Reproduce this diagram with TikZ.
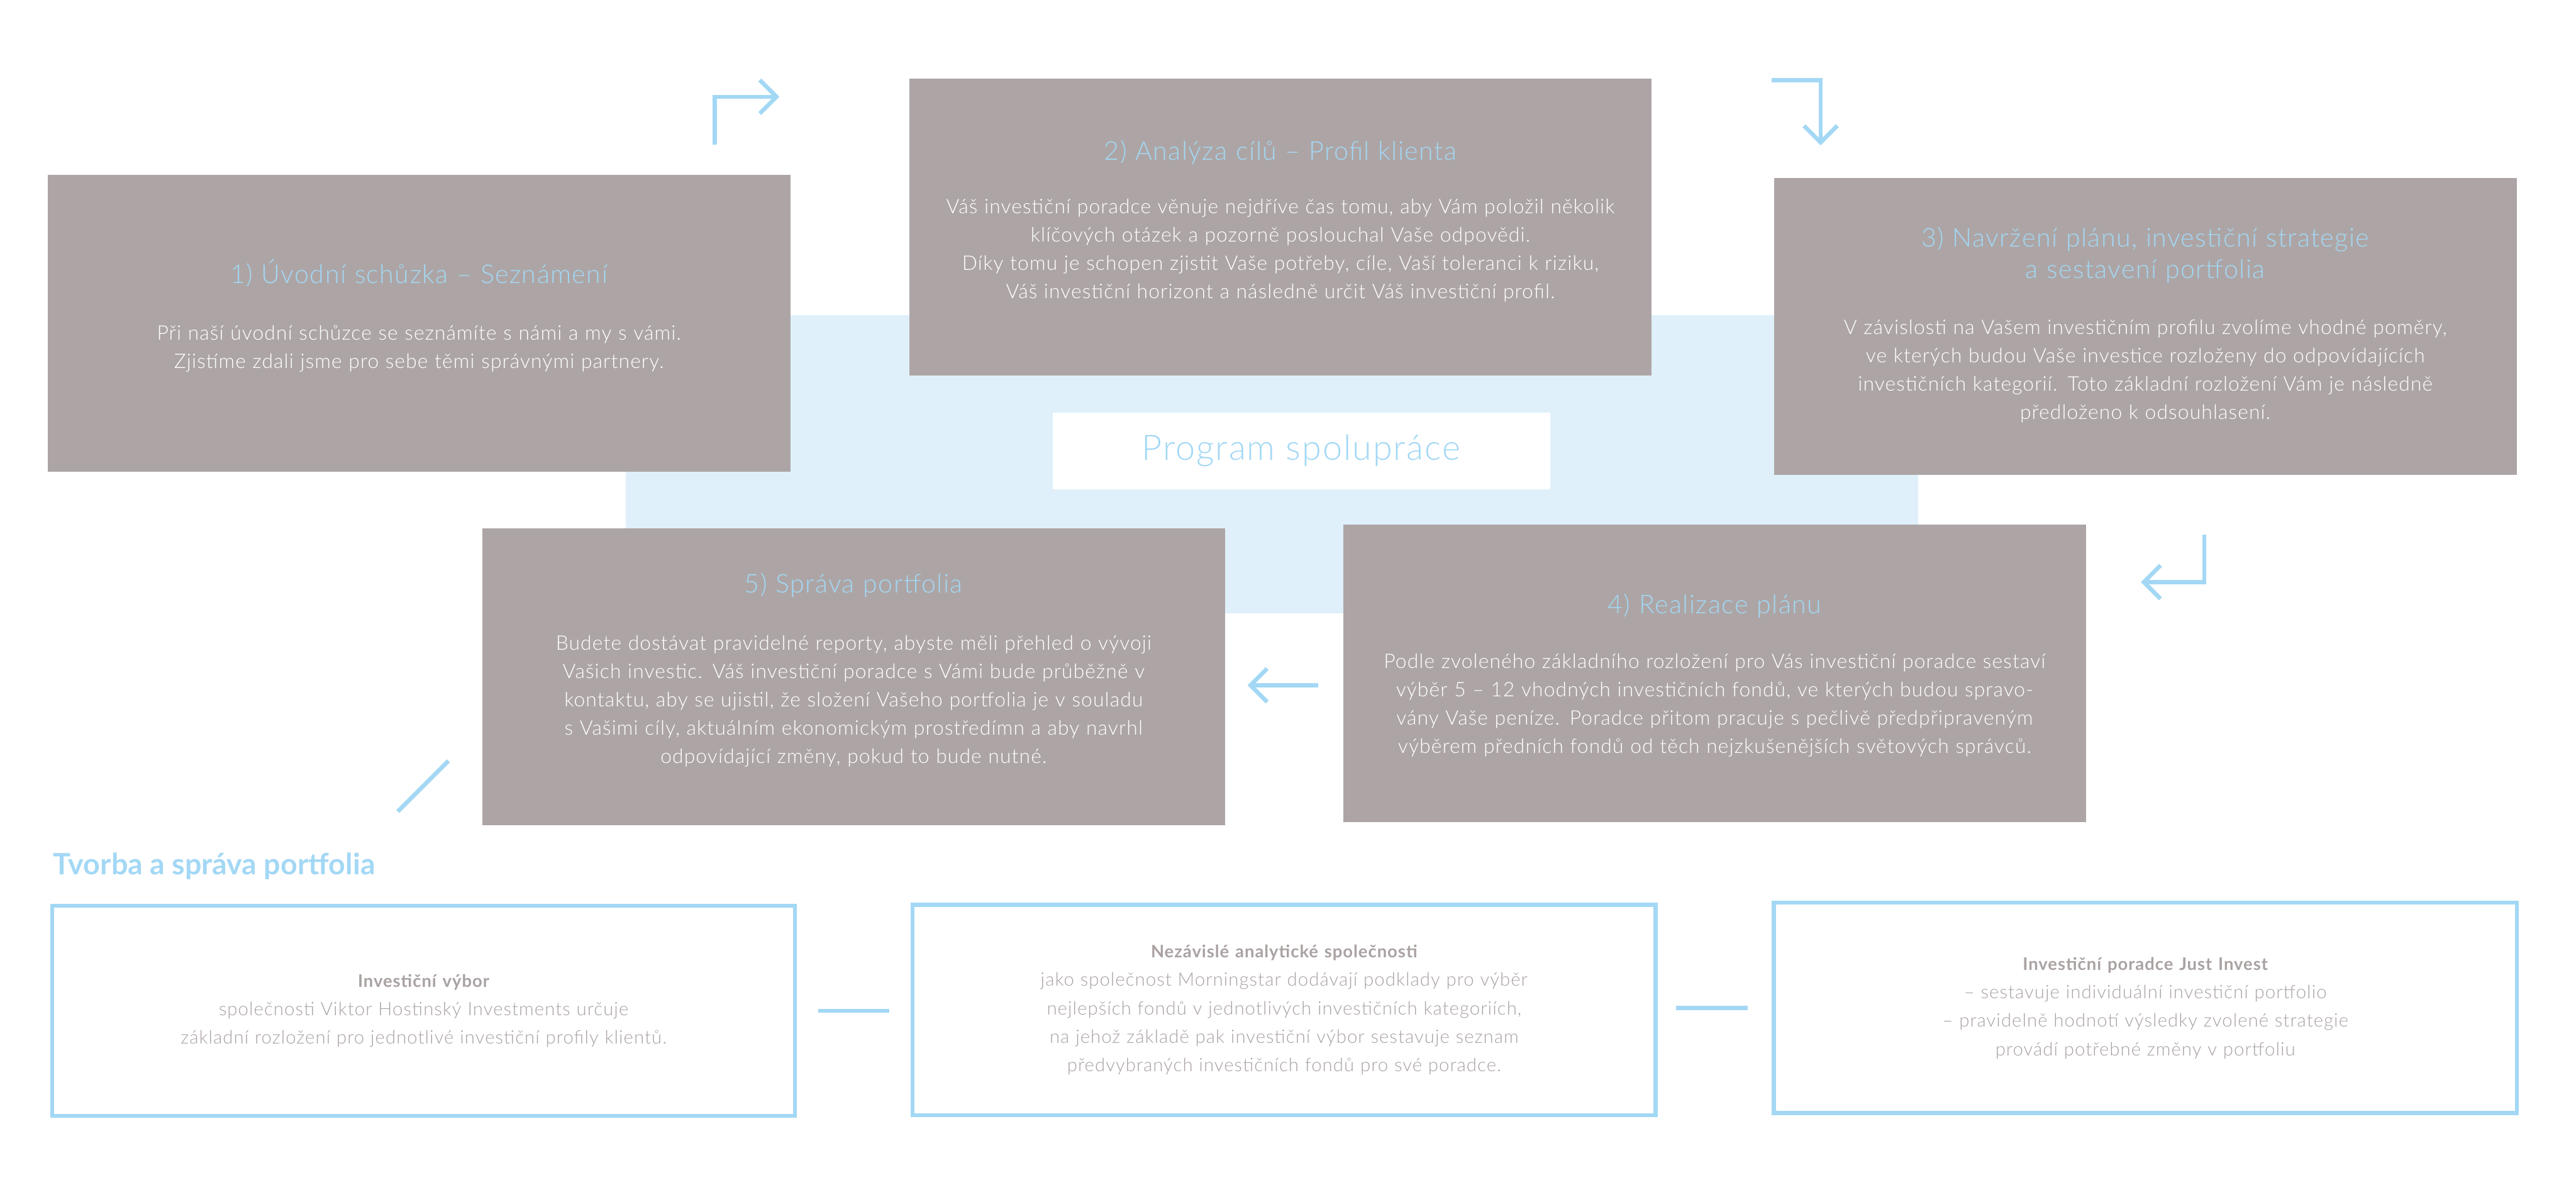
\documentclass[tikz,border=0pt]{standalone}
\usepackage{fontspec}
\setmainfont{Lato}[UprightFont=* Light, BoldFont=* Bold]
\usetikzlibrary{arrows.meta,positioning}

\definecolor{boxgray}{RGB}{173,165,165}
\definecolor{skyblue}{RGB}{163,216,245}
\definecolor{paleblue}{RGB}{223,240,250}
\definecolor{textgray}{RGB}{170,162,162}

\newcommand{\rolehead}[1]{{\fontsize{10}{16.5}\selectfont\bfseries #1}}

\begin{document}
\begin{tikzpicture}[
  stepbox/.style={rectangle, fill=boxgray, minimum width=15.12cm,
                  minimum height=6.05cm, inner sep=0pt},
  steptitle/.style={anchor=base, text=skyblue, align=center, text width=14.8cm,
                    inner sep=0pt,
                    font=\fontsize{15}{18.2}\selectfont\addfontfeature{LetterSpace=3.5}},
  steptext/.style={anchor=base, text=white, align=center, text width=14.8cm,
                   inner sep=0pt,
                   font=\fontsize{11.6}{16.4}\selectfont\addfontfeature{LetterSpace=3.5}},
  rolebox/.style={rectangle, draw=skyblue, line width=0.8mm, fill=white,
                  minimum width=15.13cm, minimum height=4.28cm, align=center,
                  text width=14.4cm, text=textgray,
                  font=\fontsize{10.7}{16.5}\selectfont\addfontfeature{LetterSpace=3.5}},
  flow/.style={draw=skyblue, line width=0.85mm,
               -{Straight Barb[length=3.4mm, width=6.8mm, sharp]}},
  link/.style={draw=skyblue, line width=0.85mm}
]
\useasboundingbox[fill=white] (0,0) rectangle (52.45,-24.02);

\node[fill=paleblue, minimum width=26.31cm, minimum height=6.06cm, inner sep=0pt]
  (panel) at (25.895,-9.45) {};

\foreach \n/\x/\y in {1/8.53/-6.585, 2/26.07/-4.62, 3/43.68/-6.645,
                      4/34.91/-13.705, 5/17.38/-13.78}
  \node[stepbox] (s\n) at (\x,\y) {};

\node[fill=white, minimum width=10.13cm, minimum height=1.56cm, inner sep=0pt,
      text=skyblue, font=\fontsize{20.3}{24}\selectfont\addfontfeature{LetterSpace=3.5}]
  (prog) at (26.495,-9.18) {Program spolupráce};

\node[steptitle] (t1) at (8.53,-5.77) {1) Úvodní schůzka – Seznámení};
\node[steptext] (d1) at (8.53,-6.92)
  {Při naší úvodní schůzce se seznámíte s námi a my s vámi.\\
   Zjistíme zdali jsme pro sebe těmi správnými partnery.};

\node[steptitle] (t2) at (26.07,-3.26) {2) Analýza cílů – Profil klienta};
\node[steptext] (d2) at (26.07,-4.35)
  {Váš investiční poradce věnuje nejdříve čas tomu, aby Vám položil několik\\
   klíčových otázek a pozorně poslouchal Vaše odpovědi.\\
   Díky tomu je schopen zjistit Vaše potřeby, cíle, Vaší toleranci k riziku,\\
   Váš investiční horizont a následně určit Váš investiční profil.};

\node[steptitle] (t3) at (43.68,-5.03)
  {3) Navržení plánu, investiční strategie\\ a sestavení portfolia};
\node[steptext] (d3) at (43.68,-6.81)
  {V závislosti na Vašem investičním profilu zvolíme vhodné poměry,\\
   ve kterých budou Vaše investice rozloženy do odpovídajících\\
   investičních kategorií. Toto základní rozložení Vám je následně\\
   předloženo k odsouhlasení.};

\node[steptitle] (t4) at (34.91,-12.49) {4) Realizace plánu};
\node[steptext] (d4) at (34.91,-13.61)
  {Podle zvoleného základního rozložení pro Vás investiční poradce sestaví\\
   výběr 5 – 12 vhodných investičních fondů, ve kterých budou spravo-\\
   vány Vaše peníze. Poradce přitom pracuje s pečlivě předpřipraveným\\
   výběrem předních fondů od těch nejzkušenějších světových správců.};

\node[steptitle] (t5) at (17.38,-12.07) {5) Správa portfolia};
\node[steptext] (d5) at (17.38,-13.23)
  {Budete dostávat pravidelné reporty, abyste měli přehled o vývoji\\
   Vašich investic. Váš investiční poradce s Vámi bude průběžně v\\
   kontaktu, aby se ujistil, že složení Vašeho portfolia je v souladu\\
   s Vašimi cíly, aktuálním ekonomickým prostředímn a aby navrhl\\
   odpovídající změny, pokud to bude nutné.};

\node[anchor=base west, inner sep=0pt, text=skyblue,
      font=\bfseries\fontsize{17}{20}\selectfont]
  (head) at (1.08,-17.81) {Tvorba a správa portfolia};

\node[rolebox] (r1) at (8.625,-20.58)
  {\rolehead{Investiční výbor}\\
   společnosti Viktor Hostinský Investments určuje\\
   základní rozložení pro jednotlivé investiční profily klientů.};
\node[rolebox] (r2) at (26.145,-20.56)
  {\rolehead{Nezávislé analytické společnosti}\\
   jako společnost Morningstar dodávají podklady pro výběr\\
   nejlepších fondů v jednotlivých investičních kategoriích,\\
   na jehož základě pak investiční výbor sestavuje seznam\\
   předvybraných investičních fondů pro své poradce.};
\node[rolebox] (r3) at (43.68,-20.52)
  {\rolehead{Investiční poradce Just Invest}\\
   – sestavuje individuální investiční portfolio\\
   – pravidelně hodnotí výsledky zvolené strategie\\
   provádí potřebné změny v portfoliu};

\coordinate (a1s) at (14.55,-2.95);
\coordinate (a1e) at (15.87,-1.97);
\coordinate (a2s) at (36.07,-1.63);
\coordinate (a2e) at (37.07,-2.96);
\coordinate (a3s) at (44.88,-10.88);
\coordinate (a3e) at (43.59,-11.85);
\coordinate (a4s) at (26.84,-13.95);
\coordinate (a4e) at (25.40,-13.95);
\coordinate (ds) at (8.10,-16.52);
\coordinate (de) at (9.13,-15.49);

\draw[flow] (a1s) |- (a1e);
\draw[flow] (a2s) -| (a2e);
\draw[flow] (a3s) |- (a3e);
\draw[flow] (a4s) -- (a4e);
\draw[link] (ds) -- (de);
\draw[link, shorten <=4.3mm, shorten >=4.4mm] (r1.east) -- (r1.east -| r2.west);
\draw[link, shorten <=3.7mm, shorten >=4.9mm] (r3.west -| r2.east) -- (r3.west);
\end{tikzpicture}
\end{document}
